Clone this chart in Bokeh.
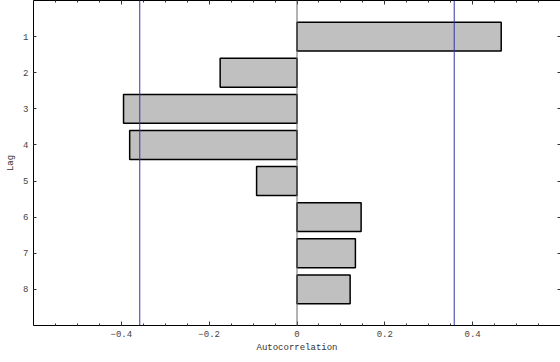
from bokeh.plotting import figure
from bokeh.models import Range1d, FixedTicker, LinearAxis, Span
from bokeh.embed import file_html
from bokeh.resources import INLINE

lags = [1, 2, 3, 4, 5, 6, 7, 8]
autocorr = [0.465, -0.175, -0.395, -0.381, -0.092, 0.146, 0.133, 0.121]
conf_limits = [-0.358, 0.358]
x_major = [-0.4, -0.2, 0, 0.2, 0.4]
x_minor = [round(-0.55 + 0.05 * i, 2) for i in range(23)]

FONT = "Liberation Mono"

p = figure(width=560, height=355, output_backend="svg", toolbar_location=None,
           x_range=Range1d(-0.6, 0.6), y_range=Range1d(9, 0),
           x_axis_location=None, y_axis_location=None,
           min_border_left=33, min_border_right=0, min_border_top=0, min_border_bottom=0)
p.outline_line_color = None
p.xgrid.visible = False
p.ygrid.visible = False
p.background_fill_color = "white"
p.border_fill_color = "white"

def style(ax, labels=True):
    ax.axis_line_color = "black"
    ax.axis_line_width = 1
    ax.major_tick_in = 4
    ax.major_tick_out = 0
    ax.minor_tick_in = 2
    ax.minor_tick_out = 0
    ax.major_tick_line_color = "#333333"
    ax.minor_tick_line_color = "#333333"
    ax.major_label_text_font = FONT
    ax.major_label_text_font_size = "9px"
    ax.major_label_text_color = "#444444"
    ax.axis_label_text_font = FONT
    ax.axis_label_text_font_size = "9px"
    ax.axis_label_text_font_style = "normal"
    ax.axis_label_text_color = "#333333"
    if not labels:
        ax.major_label_standoff = 0
        ax.major_label_overrides = {t: "" for t in ax.ticker.ticks}

xt_b = FixedTicker(ticks=x_major, minor_ticks=x_minor)
xt_t = FixedTicker(ticks=x_major, minor_ticks=x_minor)
yt_l = FixedTicker(ticks=lags, minor_ticks=[])
yt_r = FixedTicker(ticks=lags, minor_ticks=[])

bottom = LinearAxis(ticker=xt_b, axis_label="Autocorrelation")
style(bottom)
bottom.major_label_overrides = {0: "0"}
bottom.major_label_standoff = 5
bottom.axis_label_standoff = 3
p.add_layout(bottom, "below")

top = LinearAxis(ticker=xt_t)
style(top, labels=False)
p.add_layout(top, "above")

left = LinearAxis(ticker=yt_l, axis_label="Lag")
style(left)
left.major_tick_in = 3
left.major_label_standoff = 5
left.axis_label_standoff = 4
p.add_layout(left, "left")

right = LinearAxis(ticker=yt_r)
style(right, labels=False)
right.major_tick_in = 3
p.add_layout(right, "right")

p.hbar(y=lags, left=0, right=autocorr, height=0.8,
       fill_color="#c0c0c0", line_color="black", line_width=1.5)

p.add_layout(Span(location=0, dimension="height", line_color="#666666", line_width=1))
for c in conf_limits:
    p.add_layout(Span(location=c, dimension="height", line_color="#3535a5", line_width=1))

open("out.html", "w").write(file_html(p, INLINE))
